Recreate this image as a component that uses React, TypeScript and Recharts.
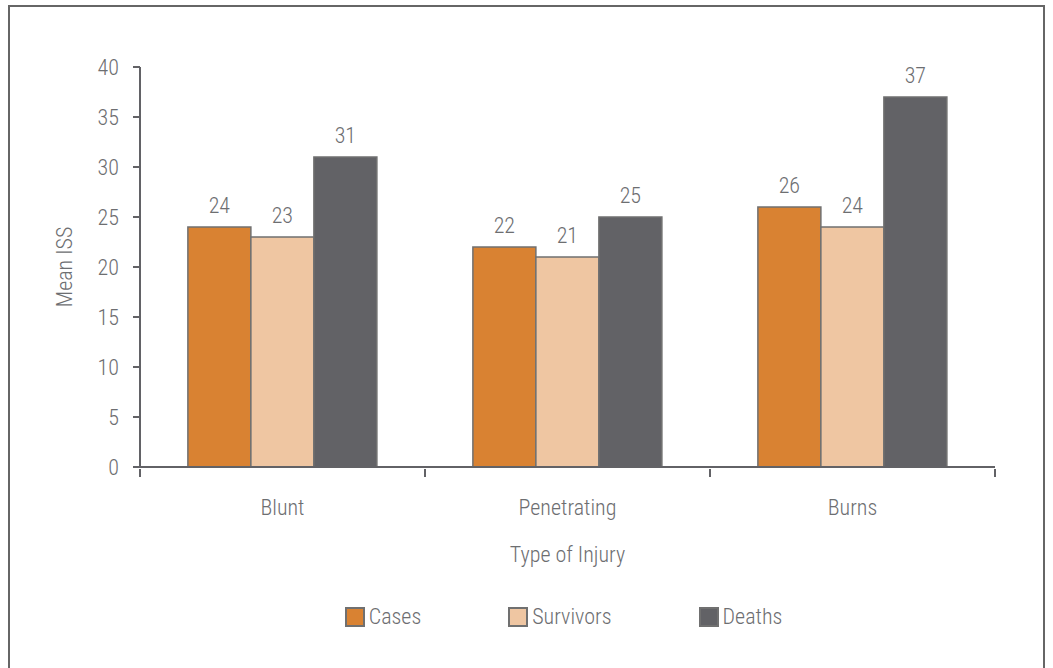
import React from "react";
import { Bar, BarChart, LabelList, Legend, XAxis, YAxis, Label } from "recharts";

const injuryTypes = ["Blunt", "Penetrating", "Burns"];
const cases = [24, 22, 26];
const survivors = [23, 21, 24];
const deaths = [31, 25, 37];
const yTicks = [0, 5, 10, 15, 20, 25, 30, 35, 40];

const FONT = "'Roboto Condensed', 'Liberation Sans Narrow', sans-serif";
const WEIGHT = 300;
const TEXT = "#6d6e71";
const AXIS = "#626266";

const CHART_W = 1033;
const MARGIN = { top: 60, right: 48, bottom: 40, left: 0 };
const Y_W = 130;
const BAND = (CHART_W - MARGIN.left - MARGIN.right - Y_W) / injuryTypes.length;

const series = [
  { key: "cases", name: "Cases", color: "#d98232" },
  { key: "survivors", name: "Survivors", color: "#efc6a2" },
  { key: "deaths", name: "Deaths", color: "#626266" },
];

const data = injuryTypes.map((name, i) => ({
  name,
  cases: cases[i],
  survivors: survivors[i],
  deaths: deaths[i],
}));

// category label plus tick marks on the band boundaries
function CategoryTick(props: any) {
  const { x, y, payload, index } = props;
  const last = index === injuryTypes.length - 1;
  return (
    <g>
      <line x1={x - BAND / 2} x2={x - BAND / 2} y1={y} y2={y + 8} stroke={AXIS} strokeWidth={2} />
      {last && <line x1={x + BAND / 2} x2={x + BAND / 2} y1={y} y2={y + 8} stroke={AXIS} strokeWidth={2} />}
      <text
        x={x}
        y={y + 46}
        textAnchor="middle"
        fill={TEXT}
        fontSize={22}
        fontFamily={FONT}
        fontWeight={WEIGHT}
      >
        {payload.value}
      </text>
    </g>
  );
}

function LegendContent() {
  return (
    <div
      style={{
        display: "flex",
        justifyContent: "center",
        paddingTop: 40,
        height: 20,
        fontFamily: FONT,
        fontWeight: WEIGHT,
        fontSize: 22,
        color: TEXT,
        paddingLeft: 122,
      }}
    >
      {series.map((s, i) => (
        <div
          key={s.key}
          style={{ display: "flex", alignItems: "center", marginLeft: i === 0 ? 0 : 87, lineHeight: "20px" }}
        >
          <span
            style={{
              display: "inline-block",
              width: 16,
              height: 16,
              background: s.color,
              border: "2px solid #707070",
              marginRight: 4,
            }}
          />
          <span>{s.name}</span>
        </div>
      ))}
    </div>
  );
}

export default function App() {
  return (
    <div
      style={{
        position: "absolute",
        left: 8,
        top: 5,
        width: CHART_W,
        height: 680,
        border: "2px solid #666",
        background: "#fff",
      }}
    >
      <BarChart
        width={CHART_W}
        height={660}
        data={data}
        margin={MARGIN}
        barCategoryGap="16.8%"
        barGap={0}
        style={{ fontFamily: FONT }}
      >
        <XAxis
          dataKey="name"
          height={100}
          tickSize={0}
          axisLine={{ stroke: AXIS, strokeWidth: 2 }}
          tickLine={false}
          tick={<CategoryTick />}
        >
          <Label
            content={({ viewBox }: any) => (
              <text
                x={viewBox.x + viewBox.width / 2}
                y={viewBox.y + 95}
                textAnchor="middle"
                fill={TEXT}
                fontSize={22}
                fontFamily={FONT}
                fontWeight={WEIGHT}
              >
                Type of Injury
              </text>
            )}
          />
        </XAxis>
        <YAxis
          width={Y_W}
          domain={[0, 40]}
          ticks={yTicks}
          interval={0}
          tickSize={7}
          tickMargin={14}
          axisLine={{ stroke: AXIS, strokeWidth: 2 }}
          tickLine={{ stroke: AXIS, strokeWidth: 2 }}
          tick={{ fill: TEXT, fontSize: 22, fontFamily: FONT, fontWeight: WEIGHT }}
        >
          <Label
            content={({ viewBox }: any) => {
              const cx = viewBox.x + 54;
              const cy = viewBox.y + viewBox.height / 2;
              return (
                <text
                  x={cx}
                  y={cy}
                  transform={`rotate(-90 ${cx} ${cy})`}
                  textAnchor="middle"
                  dominantBaseline="central"
                  fill={TEXT}
                  fontSize={22}
                  fontFamily={FONT}
                  fontWeight={WEIGHT}
                >
                  Mean ISS
                </text>
              );
            }}
          />
        </YAxis>
        <Legend verticalAlign="bottom" content={<LegendContent />} />
        {series.map((s) => (
          <Bar
            key={s.key}
            dataKey={s.key}
            name={s.name}
            fill={s.color}
            stroke="#707070"
            strokeWidth={1.5}
            isAnimationActive={false}
          >
            <LabelList
              dataKey={s.key}
              position="top"
              offset={14}
              fill={TEXT}
              fontSize={22}
              fontFamily={FONT}
              fontWeight={WEIGHT}
            />
          </Bar>
        ))}
      </BarChart>
    </div>
  );
}
